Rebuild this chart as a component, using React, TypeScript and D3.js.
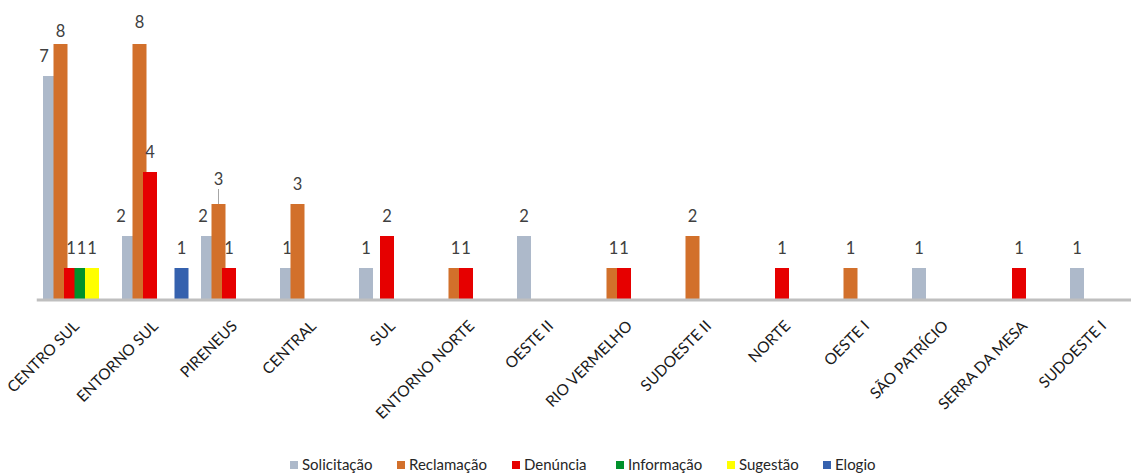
import React from "react";
import * as d3 from "d3";

// Regional breakdown of manifestations by type
const categories = [
  "CENTRO SUL", "ENTORNO SUL", "PIRENEUS", "CENTRAL", "SUL", "ENTORNO NORTE", "OESTE II",
  "RIO VERMELHO", "SUDOESTE II", "NORTE", "OESTE I", "SÃO PATRÍCIO", "SERRA DA MESA", "SUDOESTE I",
];
const seriesNames = ["Solicitação", "Reclamação", "Denúncia", "Informação", "Sugestão", "Elogio"];
const solicitacao = [7, 2, 2, 1, 1, 0, 2, 0, 0, 0, 0, 1, 0, 1];
const reclamacao = [8, 8, 3, 3, 0, 1, 0, 1, 2, 0, 1, 0, 0, 0];
const denuncia = [1, 4, 1, 0, 2, 1, 0, 1, 0, 1, 0, 0, 1, 0];
const informacao = [1, 0, 0, 0, 0, 0, 0, 0, 0, 0, 0, 0, 0, 0];
const sugestao = [1, 0, 0, 0, 0, 0, 0, 0, 0, 0, 0, 0, 0, 0];
const elogio = [0, 1, 0, 0, 0, 0, 0, 0, 0, 0, 0, 0, 0, 0];
const seriesValues = [solicitacao, reclamacao, denuncia, informacao, sugestao, elogio];

const colors = ["#ADB9CA", "#D2702B", "#E60000", "#00912B", "#FFFF00", "#3561AE"];

// hand-placed label offsets (series index, category index) -> [dx, dy, leader]
const labelNudge: Record<string, [number, number, boolean]> = {
  "0-0": [-6, 0, false],
  "1-0": [0, 7, false],
  "1-1": [0, -2, false],
  "0-1": [-8, 0, false],
  "0-2": [-5, 0, false],
  "1-2": [0, -5, true],
};

const W = 1131;
const H = 475;
const FONT = "Lato, 'Open Sans', sans-serif";
const plotLeft = 36.75;
const plotRight = plotLeft + 79 * categories.length;
const baseY = 300;
const barW = 14;

const x = d3.scaleBand<string>().domain(categories).range([plotLeft, plotRight])
  .paddingInner(12.5 / 79).paddingOuter(12.5 / 158);
const slot = d3.scalePoint<string>().domain(seriesNames).range([0, x.bandwidth() - barW]);
const y = d3.scaleLinear().domain([0, 9]).range([baseY, baseY - 9 * 32]);

// legend layout (marker, gap, text widths)
const legendTextW = [73, 81, 70, 77, 62, 38];
const legendGap = 22;
const markerW = 8;
const markerGap = 4;
const legendTotal = d3.sum(legendTextW) + legendTextW.length * (markerW + markerGap) + (legendTextW.length - 1) * legendGap;
const legendStart = 581.5 - legendTotal / 2;
const legendX = legendTextW.map((_, i) =>
  legendStart + d3.sum(legendTextW.slice(0, i)) + i * (markerW + markerGap + legendGap));

export default function App() {
  return (
    <svg width={W} height={H} style={{ position: "absolute", left: 0, top: 0, background: "#fff" }}
      fontFamily={FONT}>
      <rect width={W} height={H} fill="#fff" />
      {seriesNames.map((s, si) => (
        <g key={s}>
          {seriesValues[si].map((v, ci) => {
            if (!v) return null;
            const bx = (x(categories[ci]) as number) + (slot(s) as number);
            return (
              <rect key={ci} x={bx} y={y(v)} width={barW} height={baseY - y(v)} fill={colors[si]} />
            );
          })}
          {seriesValues[si].map((v, ci) => {
            if (!v) return null;
            const cx = (x(categories[ci]) as number) + (slot(s) as number) + barW / 2;
            const n = labelNudge[`${si}-${ci}`] || [0, 0, false];
            const ly = y(v) - 14 + n[1];
            return (
              <g key={"l" + ci}>
                {n[2] && <line x1={cx} x2={cx} y1={ly + 4} y2={y(v)} stroke="#A6A6A6" strokeWidth={1} />}
                <text x={cx + n[0]} y={ly} textAnchor="middle" fontSize={16.5} fill="#404040">{v}</text>
              </g>
            );
          })}
        </g>
      ))}
      <line x1={plotLeft} x2={plotRight} y1={baseY} y2={baseY} stroke="#BFBFBF" strokeWidth={3} />
      {categories.map((c) => {
        const cx = (x(c) as number) + x.bandwidth() / 2;
        return (
          <text key={c} transform={`translate(${cx + 4},${327}) rotate(-45)`} textAnchor="end"
            fontSize={15.5} fill="#1a1a1a">{c}</text>
        );
      })}
      {seriesNames.map((s, i) => (
        <g key={"lg" + s} transform={`translate(${legendX[i]},465)`}>
          <rect x={0} y={-4} width={markerW} height={8} fill={colors[i]} />
          <text x={markerW + markerGap} y={5} fontSize={15} fill="#262626">{s}</text>
        </g>
      ))}
    </svg>
  );
}
